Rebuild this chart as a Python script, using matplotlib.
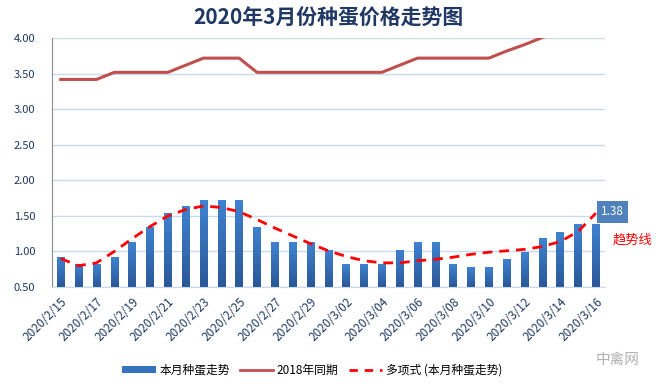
"""种蛋价格走势图 — 2020年3月份."""

import matplotlib
matplotlib.use("Agg")
import matplotlib.pyplot as plt
import numpy as np
from matplotlib.colors import LinearSegmentedColormap
from matplotlib.lines import Line2D
from matplotlib.patches import Patch

plt.rcParams["font.family"] = ["Noto Sans CJK SC", "DejaVu Sans"]

dates = (
    [f"2020/2/{d}" for d in range(15, 30)]
    + [f"2020/3/{d:02d}" for d in range(1, 17)]
)

# 本月种蛋走势
price_2020 = [0.92, 0.82, 0.82, 0.92, 1.13, 1.33, 1.53, 1.63, 1.72, 1.72,
              1.72, 1.33, 1.13, 1.13, 1.13, 1.02, 0.82, 0.82, 0.82, 1.02,
              1.13, 1.13, 0.82, 0.78, 0.78, 0.88, 0.98, 1.18, 1.27, 1.38,
              1.38]

# 2018年同期
price_2018 = [3.42, 3.42, 3.42, 3.52, 3.52, 3.52, 3.52, 3.62, 3.72, 3.72,
              3.72, 3.52, 3.52, 3.52, 3.52, 3.52, 3.52, 3.52, 3.52, 3.62,
              3.72, 3.72, 3.72, 3.72, 3.72, 3.82, 3.91, 4.01, 4.10, 4.20,
              4.30]

# 多项式趋势线
trend = [0.90, 0.80, 0.84, 1.00, 1.18, 1.35, 1.50, 1.59, 1.64, 1.62,
         1.56, 1.45, 1.33, 1.22, 1.11, 1.01, 0.93, 0.87, 0.84, 0.84,
         0.87, 0.89, 0.92, 0.96, 0.99, 1.01, 1.03, 1.07, 1.14, 1.28,
         1.54]

yticks = [0.5, 1.0, 1.5, 2.0, 2.5, 3.0, 3.5, 4.0]
y_min, y_max = 0.5, 4.0

navy = "#1F3864"
grid_color = "#C9DAEE"

fig = plt.figure(figsize=(6.56, 3.90), dpi=100)
ax = fig.add_axes([0.079, 0.264, 0.843, 0.638])

x = np.arange(len(dates))

# Bars with a vertical gradient
bars = ax.bar(x, price_2020, width=0.42, color="#3573BE", zorder=2)
grad_cmap = LinearSegmentedColormap.from_list("bar", ["#2A5898", "#3F82D0"])
gradient = np.linspace(0, 1, 64).reshape(-1, 1)
for b in bars:
    x0, w, h = b.get_x(), b.get_width(), b.get_height()
    ax.imshow(gradient, extent=(x0, x0 + w, y_min, h), origin="lower",
              aspect="auto", cmap=grad_cmap, zorder=2.1)

ax.plot(x, price_2018, color="#C0504D", lw=2.2, zorder=3)
ax.plot(x, trend, color="#FF0000", lw=2.0, ls=(0, (3.5, 2.5)), zorder=4)

ax.set_xlim(-0.5, len(dates) - 0.5)
ax.set_ylim(y_min, y_max)
ax.set_yticks(yticks)
ax.set_yticklabels([f"{v:.2f}" for v in yticks])
ax.yaxis.grid(True, color=grid_color, lw=1.0, zorder=0)
ax.set_axisbelow(True)

ax.set_xticks(x[::2])
ax.set_xticklabels(dates[::2], rotation=45, ha="right", rotation_mode="anchor")
ax.tick_params(axis="both", length=0, labelcolor=navy)
ax.tick_params(axis="x", pad=6, labelsize=8.5)
ax.tick_params(axis="y", pad=12, labelsize=8)

for side in ("top", "right"):
    ax.spines[side].set_visible(False)
ax.spines["left"].set_color("#8C8C8C")
ax.spines["bottom"].set_color(grid_color)

# Data label for the last bar and the trend note
ax.annotate(f"{price_2020[-1]:.2f}", xy=(x[-1], price_2020[-1]),
            xytext=(12, 9), textcoords="offset points", ha="center",
            va="center", color="white", fontsize=8.5,
            bbox=dict(boxstyle="square,pad=0.35", fc="#4F81BD", ec="none"),
            annotation_clip=False)
ax.annotate("趋势线", xy=(x[-1], price_2020[-1]), xytext=(26, -11.5),
            textcoords="offset points", ha="center", va="center",
            color="#FF0000", fontsize=9.5, annotation_clip=False)

fig.text(0.5, 0.953, "2020年3月份种蛋价格走势图", ha="center", va="center",
         fontsize=15, fontweight="bold", color=navy)

handles = [
    Patch(facecolor="#3573BE", edgecolor="none"),
    Line2D([], [], color="#C0504D", lw=2),
    Line2D([], [], color="#FF0000", lw=2, ls=(0, (3, 2.5))),
]
labels = ["本月种蛋走势", "2018年同期", "多项式 (本月种蛋走势)"]
fig.legend(handles, labels, loc="center", bbox_to_anchor=(0.476, 0.051),
           ncol=3, frameon=False, fontsize=8.5, handlelength=2.8,
           handleheight=0.6, columnspacing=0.9, handletextpad=0.3)

fig.text(0.975, 0.078, "中禽网", ha="right", va="center", fontsize=10.5,
         color="#B0B0B0")

fig.savefig("out.png", dpi=100)
plt.close(fig)
